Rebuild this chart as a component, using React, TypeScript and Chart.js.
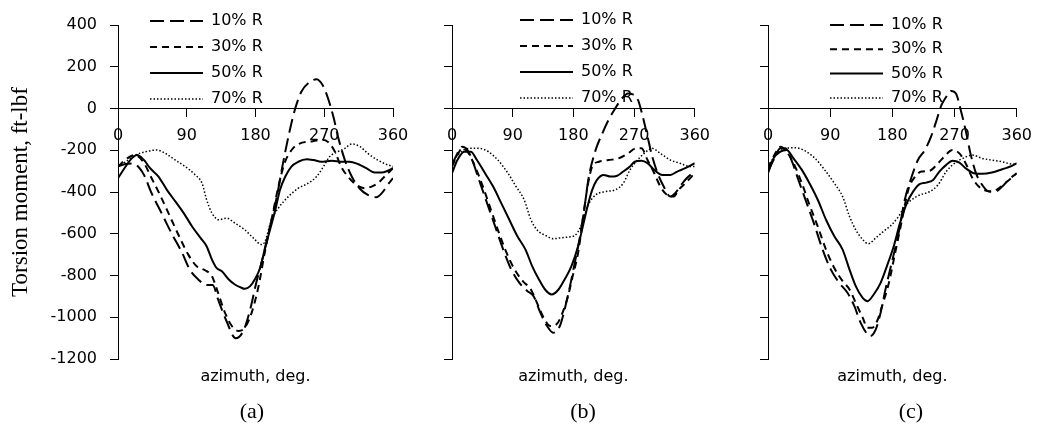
import React, { useEffect, useRef } from 'react';
import { Chart, registerables } from 'chart.js';

Chart.register(...registerables);

type P = [number, number][];

// ---------- labels ----------
const SERIES_LABELS = ['10% R', '30% R', '50% R', '70% R'];
const Y_TITLE = 'Torsion moment, ft-lbf';
const X_TITLE = 'azimuth, deg.';
const CAPTIONS = ['(a)', '(b)', '(c)'];
const X_MIN = 0;
const X_MAX = 360;
const X_STEP = 90;
const Y_MIN = -1200;
const Y_MAX = 400;
const Y_STEP = 200;

// ---------- panel (a) ----------
const A_R10: P = [[0,-278],[10,-266],[20,-264],[28,-285],[34,-318],[44,-406],[57,-501],[70,-597],[84,-692],[94,-772],[105,-819],[116,-846],[124,-845],[131,-915],[142,-1018],[154,-1101],[164,-1066],[173,-963],[181,-835],[190,-708],[199,-565],[208,-422],[216,-262],[225,-103],[232,0],[240,80],[251,127],[260,140],[268,111],[275,48],[282,-40],[288,-135],[297,-247],[306,-326],[316,-382],[327,-414],[338,-425],[347,-398],[353,-366],[360,-334]];
const A_R30: P = [[0,-278],[12,-239],[22,-223],[33,-255],[44,-334],[55,-414],[68,-517],[81,-620],[92,-700],[103,-756],[114,-775],[123,-803],[131,-883],[140,-978],[149,-1042],[158,-1066],[166,-1050],[175,-978],[184,-851],[192,-692],[201,-533],[210,-374],[218,-262],[229,-191],[240,-165],[253,-158],[266,-150],[275,-160],[284,-207],[292,-278],[301,-326],[312,-366],[323,-382],[332,-374],[340,-358],[349,-326],[360,-286]];
const A_R50: P = [[0,-334],[10,-278],[18,-239],[25,-223],[34,-247],[42,-286],[53,-326],[64,-390],[75,-445],[86,-501],[97,-565],[108,-620],[116,-660],[123,-724],[129,-764],[136,-780],[145,-819],[153,-843],[160,-856],[166,-864],[173,-851],[179,-819],[186,-764],[192,-676],[199,-581],[206,-485],[212,-390],[219,-326],[227,-278],[236,-255],[247,-243],[256,-247],[266,-255],[280,-250],[293,-255],[303,-255],[314,-266],[325,-286],[336,-307],[345,-307],[354,-297],[360,-286]];
const A_R70: P = [[0,-278],[10,-255],[23,-223],[36,-207],[51,-199],[62,-215],[75,-247],[88,-278],[101,-318],[110,-358],[116,-437],[123,-501],[132,-533],[142,-525],[153,-549],[166,-581],[177,-620],[188,-652],[192,-640],[201,-533],[210,-477],[223,-422],[236,-382],[249,-358],[260,-326],[269,-278],[277,-231],[288,-207],[297,-191],[306,-170],[317,-183],[327,-215],[340,-247],[351,-267],[360,-278]];

// ---------- panel (b) ----------
const B_R10: P = [[0,-270],[8,-215],[15,-183],[23,-199],[30,-247],[40,-342],[52,-453],[64,-565],[76,-676],[88,-772],[100,-835],[112,-875],[121,-899],[131,-978],[141,-1042],[150,-1074],[160,-1042],[167,-963],[175,-851],[182,-740],[189,-628],[196,-485],[203,-326],[213,-199],[223,-119],[232,-56],[242,0],[252,48],[261,72],[268,68],[276,40],[283,-40],[290,-135],[297,-231],[305,-310],[314,-374],[324,-422],[331,-406],[338,-374],[348,-334],[360,-302]];
const B_R30: P = [[0,-278],[8,-223],[15,-191],[23,-207],[32,-262],[44,-358],[56,-469],[68,-581],[81,-692],[93,-772],[105,-827],[117,-867],[126,-931],[136,-1002],[146,-1042],[155,-1034],[162,-994],[172,-899],[179,-803],[187,-692],[194,-533],[201,-374],[208,-278],[218,-255],[232,-247],[247,-239],[261,-215],[273,-191],[281,-191],[290,-247],[300,-310],[309,-374],[319,-414],[329,-422],[336,-390],[346,-358],[360,-310]];
const B_R50: P = [[0,-310],[8,-247],[18,-207],[28,-207],[37,-247],[49,-310],[61,-374],[73,-453],[85,-533],[97,-612],[109,-676],[119,-756],[129,-819],[138,-867],[148,-891],[158,-867],[167,-819],[177,-756],[187,-660],[194,-565],[201,-469],[208,-390],[215,-342],[225,-318],[235,-326],[244,-323],[254,-302],[264,-278],[271,-255],[281,-250],[290,-262],[300,-294],[312,-318],[324,-318],[334,-302],[346,-286],[360,-262]];
const B_R70: P = [[0,-262],[11,-215],[25,-191],[40,-191],[54,-207],[68,-247],[83,-310],[95,-374],[107,-437],[117,-533],[126,-581],[141,-612],[150,-624],[160,-620],[172,-616],[182,-609],[191,-565],[201,-469],[213,-414],[228,-398],[242,-390],[254,-358],[264,-294],[273,-255],[285,-215],[297,-191],[309,-215],[324,-247],[338,-262],[353,-278],[360,-278]];

// ---------- panel (c) ----------
const C_R10: P = [[0,-302],[8,-247],[18,-191],[25,-191],[34,-247],[44,-342],[56,-453],[68,-565],[79,-676],[91,-772],[103,-835],[115,-883],[125,-947],[134,-1026],[144,-1082],[148,-1090],[156,-1058],[163,-978],[170,-867],[179,-740],[189,-597],[198,-437],[208,-326],[217,-247],[227,-199],[236,-135],[244,-56],[251,16],[258,56],[265,84],[272,72],[279,-8],[286,-103],[293,-215],[301,-310],[310,-366],[320,-398],[329,-398],[339,-374],[348,-342],[360,-310]];
const C_R30: P = [[0,-286],[8,-231],[18,-183],[27,-207],[37,-262],[49,-358],[60,-461],[72,-565],[84,-676],[96,-764],[108,-827],[118,-867],[127,-931],[137,-1002],[144,-1050],[151,-1050],[158,-1018],[165,-947],[175,-835],[184,-692],[194,-533],[203,-390],[213,-326],[222,-302],[234,-298],[244,-270],[255,-231],[267,-199],[277,-215],[286,-262],[296,-334],[305,-374],[315,-393],[324,-398],[334,-382],[346,-350],[360,-310]];
const C_R50: P = [[0,-310],[8,-239],[18,-207],[27,-199],[37,-239],[49,-294],[60,-358],[72,-437],[84,-533],[96,-612],[108,-676],[118,-772],[127,-851],[137,-907],[144,-923],[153,-891],[163,-835],[172,-756],[182,-660],[191,-549],[201,-453],[210,-398],[220,-361],[229,-355],[239,-342],[248,-302],[258,-270],[267,-250],[277,-259],[286,-286],[298,-310],[310,-313],[324,-307],[339,-291],[353,-275],[360,-262]];
const C_R70: P = [[0,-278],[11,-223],[25,-191],[39,-188],[53,-202],[68,-239],[82,-294],[96,-358],[108,-422],[118,-517],[127,-581],[137,-628],[145,-648],[156,-620],[167,-589],[179,-557],[189,-517],[198,-469],[208,-437],[220,-414],[234,-398],[246,-366],[258,-302],[270,-262],[282,-239],[296,-223],[310,-239],[324,-247],[339,-255],[353,-266],[360,-266]];

const PANEL_DATA: P[][] = [
  [A_R10, A_R30, A_R50, A_R70],
  [B_R10, B_R30, B_R50, B_R70],
  [C_R10, C_R30, C_R50, C_R70],
];

// ---------- styles / layout ----------
const LINE_STYLES = [
  { borderDash: [14, 6], borderWidth: 2 },
  { borderDash: [7, 5], borderWidth: 2 },
  { borderDash: [] as number[], borderWidth: 2 },
  { borderDash: [1.5, 2], borderWidth: 1.5 },
];

const LAYOUT = [
  { left: 0, width: 430, yW: 118, padR: 37, showY: true, lg: { x: 140, y: 3, pad: 10 }, capX: 252 },
  { left: 430, width: 290, yW: 22, padR: 18, showY: false, lg: { x: 80, y: 2, pad: 10 }, capX: 583 },
  { left: 720, width: 322, yW: 48, padR: 22, showY: false, lg: { x: 101.7, y: 8.7, pad: 8.3 }, capX: 911 },
];

const SANS = "'DejaVu Sans', sans-serif";
const SERIF = "'Liberation Serif', 'Times New Roman', serif";
const H = 428;
const TOP = 25;
const BOTTOM = 359;
const XT_H = 27;

const legendPlace = {
  id: 'legendPlace',
  afterLayout(chart: any, _args: any, opts: any) {
    const lg = chart.legend;
    if (!lg || opts == null || opts.x == null) return;
    const w = lg.width;
    const h = lg.height;
    lg.left = opts.x;
    lg.right = opts.x + w;
    lg.top = opts.y;
    lg.bottom = opts.y + h;
  },
};

function Panel({ idx }: { idx: number }) {
  const ref = useRef<HTMLCanvasElement>(null);
  const L = LAYOUT[idx];
  useEffect(() => {
    const canvas = ref.current;
    if (!canvas) return;
    const datasets = PANEL_DATA[idx].map((series, i) => ({
      label: SERIES_LABELS[i],
      data: series.map(([x, y]) => ({ x, y })),
      borderColor: '#000',
      backgroundColor: 'transparent',
      borderDash: LINE_STYLES[i].borderDash,
      borderWidth: LINE_STYLES[i].borderWidth,
      pointRadius: 0,
      fill: false,
      cubicInterpolationMode: 'monotone' as const,
      xAxisID: 'x',
      yAxisID: 'y',
    }));
    const chart = new Chart(canvas, {
      type: 'line',
      data: { datasets },
      plugins: [legendPlace],
      options: {
        responsive: false,
        animation: false,
        devicePixelRatio: 1,
        color: '#000',
        font: { family: SANS, size: 16 },
        layout: { padding: { left: 0, right: L.padR, top: TOP, bottom: H - BOTTOM - XT_H } },
        plugins: {
          tooltip: { enabled: false },
          title: { display: false },
          legend: {
            display: true,
            position: 'chartArea',
            align: 'start',
            labels: {
              usePointStyle: true,
              pointStyle: 'line',
              pointStyleWidth: 53,
              boxWidth: 53,
              boxHeight: 16,
              padding: L.lg.pad,
              color: '#000',
              font: { family: SANS, size: 16 },
              generateLabels: (ch: any) =>
                ch.data.datasets.map((ds: any, i: number) => ({
                  text: ds.label,
                  fillStyle: 'transparent',
                  strokeStyle: '#000',
                  fontColor: '#000',
                  lineWidth: ds.borderWidth,
                  lineDash: ds.borderDash,
                  lineDashOffset: 0,
                  lineCap: 'butt',
                  lineJoin: 'miter',
                  pointStyle: 'line',
                  rotation: 0,
                  hidden: false,
                  datasetIndex: i,
                })),
            },
          },
          legendPlace: { x: L.lg.x, y: L.lg.y },
        } as any,
        scales: {
          x: {
            type: 'linear',
            position: { y: 0 } as any,
            min: X_MIN,
            max: X_MAX,
            ticks: { stepSize: X_STEP, color: '#000', padding: 10, font: { family: SANS, size: 16 }, maxRotation: 0 },
            grid: { display: true, drawOnChartArea: false, drawTicks: true, tickLength: 8, color: '#000' },
            border: { display: true, color: '#000', width: 1 },
          },
          xt: {
            type: 'linear',
            axis: 'x',
            position: 'bottom',
            min: X_MIN,
            max: X_MAX,
            ticks: { display: false },
            grid: { display: false, drawTicks: false },
            border: { display: false },
            title: { display: true, text: X_TITLE, color: '#000', font: { family: SANS, size: 16 }, padding: { top: 7, bottom: 0 } },
            afterFit: (s: any) => { s.height = XT_H; },
          },
          y: {
            type: 'linear',
            position: 'left',
            min: Y_MIN,
            max: Y_MAX,
            ticks: {
              stepSize: Y_STEP,
              display: L.showY,
              color: '#000',
              padding: 13,
              font: { family: SANS, size: 16 },
              callback: (v: any) => String(v),
            },
            grid: { display: true, drawOnChartArea: false, drawTicks: true, tickLength: 8, color: '#000' },
            border: { display: true, color: '#000', width: 1 },
            title: { display: L.showY, text: Y_TITLE, color: '#000', font: { family: SERIF, size: 23 }, padding: { top: 7, bottom: 0 } },
            afterFit: (s: any) => { s.width = L.yW; },
          },
        } as any,
      },
    });
    return () => chart.destroy();
  }, [idx]);
  return (
    <canvas
      ref={ref}
      width={L.width}
      height={H}
      style={{ position: 'absolute', left: L.left, top: 0, width: L.width, height: H }}
    />
  );
}

export default function App() {
  return (
    <div style={{ position: 'absolute', left: 0, top: 0, width: 1042, height: H, background: '#fff', overflow: 'hidden' }}>
      {LAYOUT.map((_, i) => <Panel key={i} idx={i} />)}
      {CAPTIONS.map((c, i) => (
        <div
          key={c}
          style={{
            position: 'absolute',
            left: LAYOUT[i].capX - 50,
            width: 100,
            top: 413 - 13 - 2,
            height: 26,
            lineHeight: '26px',
            textAlign: 'center',
            fontFamily: SERIF,
            fontSize: 22,
            color: '#000',
          }}
        >
          {c}
        </div>
      ))}
    </div>
  );
}
